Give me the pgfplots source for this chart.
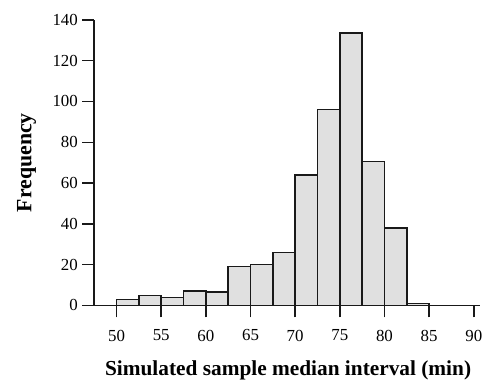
\documentclass[border=0pt]{standalone}
\usepackage{pgfplots}
\pgfplotsset{compat=1.18}
\usepackage{fontspec}
\setmainfont{Liberation Serif}
\begin{document}
\begin{tikzpicture}
\path[use as bounding box] (-95pt,-77pt) rectangle (393pt,308pt);
\begin{axis}[
  at={(0pt,0pt)}, anchor=south west,
  scale only axis,
  width=389pt, height=288pt,
  xmin=47.5, xmax=90.7,
  ymin=0, ymax=140,
  axis lines=left,
  axis line style={-, line width=1.5pt, black!90},
  xtick={50,55,...,90},
  ytick={0,20,...,140},
  tick align=outside,
  major tick length=12pt,
  tick style={line width=1.5pt, black!90},
  /pgf/number format/assume math mode=true,
  ticklabel style={font=\fontsize{17}{17}\selectfont, text=black},
  xticklabel style={yshift=-9pt},
  yticklabel style={xshift=-1pt},
  xlabel={\textbf{Simulated sample median interval (min)}},
  ylabel={\textbf{Frequency}},
  xlabel style={font=\fontsize{21.5}{21.5}\selectfont, at={(axis description cs:0.5,0)}, anchor=north, yshift=-52pt, xshift=1pt},
  ylabel style={font=\fontsize{22}{22}\selectfont, at={(axis description cs:0,0.5)}, anchor=south, yshift=55pt},
  clip=false,
]
\addplot[ybar interval, fill=black!12, draw=black!90, line width=1.5pt] coordinates {
(50,3) (52.5,5) (55,4) (57.5,7) (60,6.5) (62.5,19) (65,20) (67.5,26)
(70,64) (72.5,96) (75,133.5) (77.5,70.5) (80,38) (82.5,1) (85,0)
};
\end{axis}
\end{tikzpicture}
\end{document}
